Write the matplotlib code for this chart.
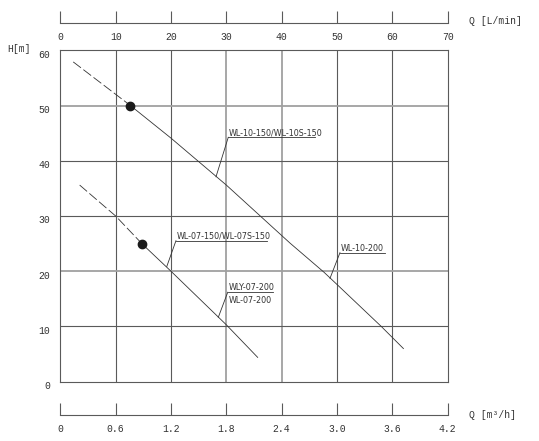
import matplotlib
matplotlib.use("Agg")
import matplotlib.pyplot as plt
from matplotlib import font_manager as fm
from matplotlib.transforms import ScaledTranslation

plt.rcParams["lines.scale_dashes"] = False

# ---------------- data ----------------
q_m3h_ticks = [0, 0.6, 1.2, 1.8, 2.4, 3.0, 3.6, 4.2]
q_m3h_labels = ["0", "0.6", "1.2", "1.8", "2.4", "3.0", "3.6", "4.2"]
q_lmin_ticks = [0, 10, 20, 30, 40, 50, 60, 70]
h_ticks = [0, 10, 20, 30, 40, 50, 60]

# WL-10 family curve
q_10_dash = [0.14, 0.76]
h_10_dash = [57.9, 50.0]
q_10 = [0.76, 1.2, 1.8, 2.49, 2.86, 3.0, 3.48, 3.72]
h_10 = [50.0, 44.1, 35.6, 25.1, 19.8, 17.6, 10.0, 6.0]

# WL-07 family curve
q_07_dash = [0.21, 0.6, 0.89]
h_07_dash = [35.6, 30.0, 24.9]
q_07 = [0.89, 1.2, 1.8, 2.14]
h_07 = [24.9, 20.0, 10.3, 4.4]

# marked points
q_pts = [0.76, 0.89]
h_pts = [50.0, 24.9]

# labels: (text lines, underline start q, underline end q, underline h, leader end q, leader end h)
labels = [
    (["WL-10-150/WL-10S-150"], 1.821, 2.761, 44.25, 1.688, 37.1),
    (["WL-07-150/WL-07S-150"], 1.254, 2.238, 25.53, 1.154, 20.84),
    (["WLY-07-200", "WL-07-200"], 1.815, 2.302, 16.19, 1.713, 11.66),
    (["WL-10-200"], 3.032, 3.520, 23.36, 2.924, 18.72),
]

# ---------------- fonts ----------------
fams = {f.name for f in fm.fontManager.ttflist}
if "Liberation Sans Narrow" in fams:
    lab_font = dict(family="Liberation Sans Narrow", size=7.6)
elif any(f.name == "DejaVu Sans" and str(f.stretch) in ("condensed", "semi-condensed")
         for f in fm.fontManager.ttflist):
    lab_font = dict(family="DejaVu Sans", stretch="condensed", size=6.4)
else:
    lab_font = dict(family="Liberation Mono", size=5.7)

num_font = dict(family="Liberation Mono", size=7)
ink = "#333333"
gridc = "#5a5a5a"

W, H = 539, 441
fig = plt.figure(figsize=(W / 100, H / 100), dpi=100)
x0, x1 = 60.3, 447.7
y_top, y_bot = 50.3, 381.7
ax = fig.add_axes([x0 / W, 1 - y_bot / H, (x1 - x0) / W, (y_bot - y_top) / H])
ax.set_xlim(0, 4.2)
ax.set_ylim(0, 60)

# grid
light_x = {1.8, 2.4}
light_y = {20, 50}
for q in q_m3h_ticks[1:-1]:
    if q in light_x:
        ax.axvline(q, color="#a0a0a0", lw=1.3, zorder=1)
    else:
        ax.axvline(q, color=gridc, lw=0.8, zorder=1)
for h in h_ticks[1:-1]:
    if h in light_y:
        ax.axhline(h, color="#a0a0a0", lw=1.3, zorder=1)
    else:
        ax.axhline(h, color=gridc, lw=0.8, zorder=1)
for s in ax.spines.values():
    s.set_color(gridc)
    s.set_linewidth(0.8)

ax.set_xticks(q_m3h_ticks)
ax.set_xticklabels([])
ax.set_yticks(h_ticks)
ax.set_yticklabels([str(h) for h in h_ticks], fontfamily=num_font["family"],
                   fontsize=num_font["size"], color=ink)
ax.tick_params(axis="both", length=0)
ax.tick_params(axis="y", pad=7.5)
off = ScaledTranslation(0, -2.5 / 72, fig.dpi_scale_trans)
for lbl in ax.get_yticklabels():
    lbl.set_transform(lbl.get_transform() + off)

# curves
dash = (7, 2.2)
ax.plot(q_10_dash, h_10_dash, color=ink, lw=0.6, dashes=dash, zorder=3)
ax.plot(q_10, h_10, color=ink, lw=0.6, zorder=3)
ax.plot(q_07_dash, h_07_dash, color=ink, lw=0.6, dashes=dash, zorder=3)
ax.plot(q_07, h_07, color=ink, lw=0.6, zorder=3)
ax.plot(q_pts, h_pts, "o", color="#1a1a1a", ms=6, zorder=4)

# annotations
for lines, qa, qb, hu, ql, hl in labels:
    ax.plot([qa, qb], [hu, hu], color=ink, lw=0.6, zorder=3)
    ax.plot([qa, ql], [hu, hl], color=ink, lw=0.6, zorder=3)
    ax.text(qa + 0.01, hu + 0.35, lines[0], ha="left", va="baseline", color=ink,
            zorder=5, **lab_font)
    if len(lines) > 1:
        ax.text(qa + 0.01, hu - 0.6, lines[1], ha="left", va="top", color=ink,
                zorder=5, **lab_font)


def flow_axis(y_line, ticks, ticklabels):
    a = fig.add_axes([x0 / W, 1 - y_line / H, (x1 - x0) / W, 0.0001])
    a.set_facecolor("none")
    for k in ("top", "left", "right"):
        a.spines[k].set_visible(False)
    a.spines["bottom"].set_color(gridc)
    a.spines["bottom"].set_linewidth(0.8)
    a.set_xlim(ticks[0], ticks[-1])
    a.set_yticks([])
    a.set_xticks(ticks)
    a.set_xticklabels(ticklabels, fontfamily=num_font["family"],
                      fontsize=num_font["size"], color=ink)
    a.tick_params(axis="x", direction="in", length=9, width=0.8, color=gridc, pad=6)
    return a


flow_axis(23.4, q_lmin_ticks, [str(t) for t in q_lmin_ticks])
flow_axis(415.2, q_m3h_ticks, q_m3h_labels)

fig.text(469.3 / W, 1 - 20.5 / H, "Q [L/min]", ha="left", va="center", color=ink, **num_font)
fig.text(469.3 / W, 1 - 415.5 / H, "Q [m³/h]", ha="left", va="center", color=ink, **num_font)
fig.text(7.6 / W, 1 - 49 / H, "H[m]", ha="left", va="center", color=ink, **num_font)

fig.savefig("out.png", dpi=100)
